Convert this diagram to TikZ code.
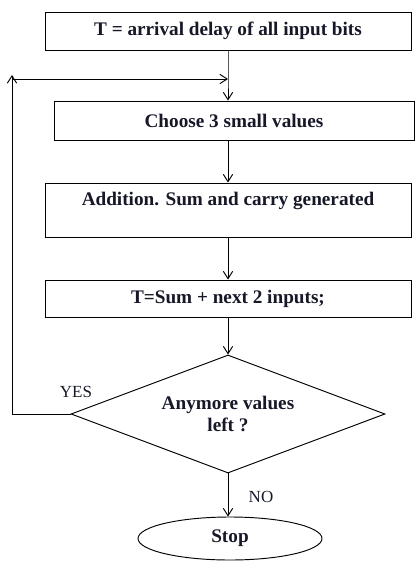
\documentclass[tikz,border=0pt]{standalone}
\usepackage{fontspec}
\setmainfont{Liberation Serif}
\usetikzlibrary{shapes.geometric}
\usetikzlibrary{arrows.meta}
\usetikzlibrary{shadows}

\definecolor{inkblue}{RGB}{22,24,40}

\begin{document}
\begin{tikzpicture}[x=0.03cm, y=-0.03cm, >={Straight Barb[length=2.2mm,width=2.8mm]},
    line width=0.8pt,
    boxtext/.style={font=\fontsize{16.4}{18.5}\selectfont\bfseries, text=inkblue, align=center},
    stepbox/.style={boxtext, draw, fill=white, inner sep=0pt, minimum width=10.98cm,
        drop shadow={shadow xshift=0.7pt, shadow yshift=-0.7pt, opacity=0.35}},
    decision/.style={boxtext, draw, diamond, aspect=2.66, inner sep=0pt,
        minimum width=9.42cm, minimum height=3.54cm},
    stopnode/.style={boxtext, draw, ellipse, inner sep=0pt,
        minimum width=5.52cm, minimum height=1.29cm},
    answer/.style={font=\fontsize{14.5}{16}\selectfont, text=inkblue}]

    \useasboundingbox (0,0) rectangle (415,561);

    \node[stepbox, minimum height=1.14cm] (init) at (228,31) {T = arrival delay of all input bits};
    \node[stepbox, minimum width=10.8cm, minimum height=1.17cm] (choose) at (234,120.5) {Choose 3 small values};
    \node[stepbox, minimum height=1.62cm] (add) at (228,210) {Addition. Sum and carry generated\\\mbox{}};
    \node[stepbox, minimum height=1.11cm] (next) at (228,298.5) {T=Sum + next 2 inputs;};
    \node[decision] (more) at (228,414) {Anymore values\\left ?};
    \node[stopnode] (stop) at (230,538.5) {Stop};

    \coordinate (join) at (228,79);
    \coordinate (loop) at (12,79);
    \coordinate (tip) at (12,75);

    \draw[->] (init.south) -- (join) -- (init.south |- choose.north);
    \draw[->] (add.north |- choose.south) -- (add.north);
    \draw[->] (add) -- (next);
    \draw[->] (next) -- (more);
    \draw[->] (more.south) -- (more.south |- stop.north);
    \draw[->] (more.west) -| (tip);
    \draw[->] (loop) -- (join);

    \node[answer] (yes) at (76,392) {YES};
    \node[answer] (no) at (261,497) {NO};

\end{tikzpicture}
\end{document}
